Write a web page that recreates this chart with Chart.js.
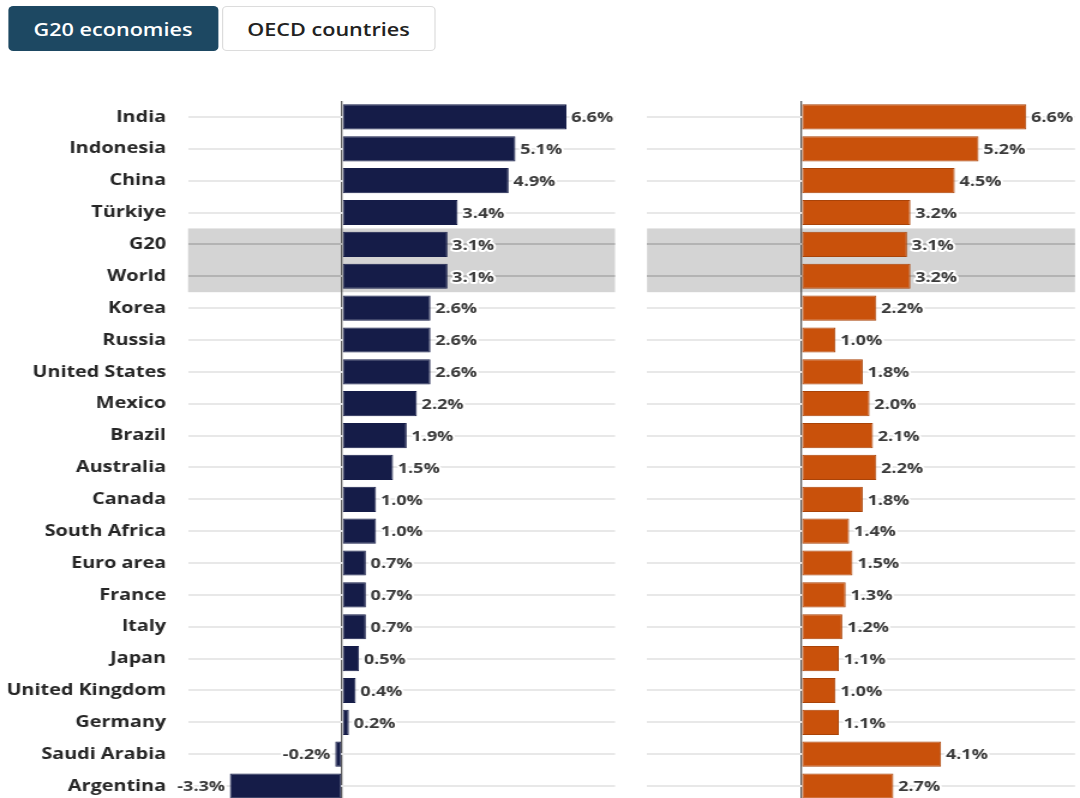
<!DOCTYPE html>
<html>
<head>
<meta charset="utf-8">
<script src="https://cdn.jsdelivr.net/npm/chart.js@4.4.1/dist/chart.umd.min.js"></script>
<style>
  body { margin: 0; background: #fff; font-family: "Open Sans", sans-serif; overflow: hidden; }
  /* the whole graphic is laid out narrow and widened by 1.2 */
  #wrap {
    position: relative; width: 900px; height: 798px;
    transform: scaleX(1.2); transform-origin: 0 0;
  }
  .tab {
    position: absolute; top: 6px; height: 45px; box-sizing: border-box;
    display: flex; align-items: center; justify-content: center;
    font-size: 18px; font-weight: 600; border-radius: 4px;
  }
  #tabG20 { left: 6.7px; width: 175px; background: #1d4862; color: #fff; }
  #tabOECD { left: 185px; width: 177.5px; background: #fff; color: #222; border: 1px solid #dcdcdc; }
  canvas { position: absolute; }
  #chartG20 { left: 0; top: 90px; }
  #chartOECD { left: 525px; top: 90px; }
</style>
</head>
<body>
<div id="wrap">
  <div class="tab" id="tabG20">G20 economies</div>
  <div class="tab" id="tabOECD">OECD countries</div>
  <canvas id="chartG20" width="525" height="722"></canvas>
  <canvas id="chartOECD" width="375" height="722"></canvas>
</div>

<script>
const economies = ['India', 'Indonesia', 'China', 'Türkiye', 'G20', 'World', 'Korea', 'Russia',
    'United States', 'Mexico', 'Brazil', 'Australia', 'Canada', 'South Africa', 'Euro area',
    'France', 'Italy', 'Japan', 'United Kingdom', 'Germany', 'Saudi Arabia', 'Argentina'];

// growth, % (left panel)
const g20Growth = [6.6, 5.1, 4.9, 3.4, 3.1, 3.1, 2.6, 2.6, 2.6, 2.2, 1.9, 1.5, 1.0, 1.0,
    0.7, 0.7, 0.7, 0.5, 0.4, 0.2, -0.2, -3.3];

// growth, % (right panel)
const oecdGrowth = [6.6, 5.2, 4.5, 3.2, 3.1, 3.2, 2.2, 1.0, 1.8, 2.0, 2.1, 2.2, 1.8, 1.4,
    1.5, 1.3, 1.2, 1.1, 1.0, 1.1, 4.1, 2.7];

const aggregates = ['G20', 'World'];

// grey band behind the aggregate rows
const bandPlugin = {
    id: 'band',
    beforeDraw(chart) {
        const ctx = chart.ctx;
        const y = chart.scales.y;
        const area = chart.chartArea;
        const step = y.getPixelForValue(1) - y.getPixelForValue(0);
        const first = economies.indexOf(aggregates[0]);
        const last = economies.indexOf(aggregates[aggregates.length - 1]);
        const top = y.getPixelForValue(first) - step / 2;
        const bottom = y.getPixelForValue(last) + step / 2;
        ctx.save();
        ctx.fillStyle = '#d4d4d4';
        ctx.fillRect(area.left, top, area.right - area.left, bottom - top);
        ctx.restore();
    }
};

// value labels at the end of each bar
const valueLabels = {
    id: 'valueLabels',
    afterDatasetsDraw(chart) {
        const ctx = chart.ctx;
        const values = chart.data.datasets[0].data;
        ctx.save();
        ctx.font = 'bold 15px "Open Sans"';
        ctx.textBaseline = 'middle';
        ctx.lineJoin = 'round';
        chart.getDatasetMeta(0).data.forEach((bar, i) => {
            const v = values[i];
            const text = v.toFixed(1) + '%';
            let x;
            if (v >= 0) {
                ctx.textAlign = 'left';
                x = bar.x + 4;
            } else {
                ctx.textAlign = 'right';
                x = bar.x - 4;
            }
            ctx.strokeStyle = '#fff';
            ctx.lineWidth = 4;
            ctx.strokeText(text, x, bar.y + 1);
            ctx.fillStyle = '#3a3a3a';
            ctx.fillText(text, x, bar.y + 1);
        });
        ctx.restore();
    }
};

function gridColor(c) {
    const label = economies[c.index];
    return aggregates.includes(label) ? '#b3b3b3' : '#e8e8e8';
}

function makeChart(id, values, barColor, edgeColor, showLabels, axisWidth, padRight) {
    const ctx = document.getElementById(id).getContext('2d');
    return new Chart(ctx, {
        type: 'bar',
        data: {
            labels: economies,
            datasets: [{
                data: values,
                backgroundColor: barColor,
                borderColor: edgeColor,
                borderWidth: 1,
                borderSkipped: false,
                barPercentage: 0.79,
                categoryPercentage: 1.0
            }]
        },
        options: {
            indexAxis: 'y',
            responsive: false,
            animation: false,
            devicePixelRatio: 1,
            layout: { padding: { top: 11, bottom: 10, left: 0, right: padRight } },
            plugins: {
                legend: { display: false },
                tooltip: { enabled: false }
            },
            scales: {
                x: {
                    min: -4.53,
                    max: 8.03,
                    ticks: { display: false, stepSize: 1 },
                    border: { display: false },
                    grid: {
                        drawTicks: false,
                        color: c => c.tick && c.tick.value === 0 ? '#5a5a5a' : 'rgba(0,0,0,0)',
                        lineWidth: 1.3
                    }
                },
                y: {
                    border: { display: false },
                    afterFit(scale) {
                        scale.width = axisWidth;
                        scale.paddingTop = 0;
                        scale.paddingBottom = 0;
                    },
                    grid: {
                        offset: false,
                        drawTicks: false,
                        color: gridColor,
                        lineWidth: 2
                    },
                    ticks: {
                        display: showLabels,
                        padding: 18.3,
                        color: '#262626',
                        font: { family: 'Open Sans', size: 16.5, weight: 'bold' }
                    }
                }
            }
        },
        plugins: [bandPlugin, valueLabels]
    });
}

makeChart('chartG20', g20Growth, '#151c48', '#151c48', true, 156.7, 12.5);
makeChart('chartOECD', oecdGrowth, '#c9510b', '#a94308', false, 14.2, 4.2);
</script>
</body>
</html>
